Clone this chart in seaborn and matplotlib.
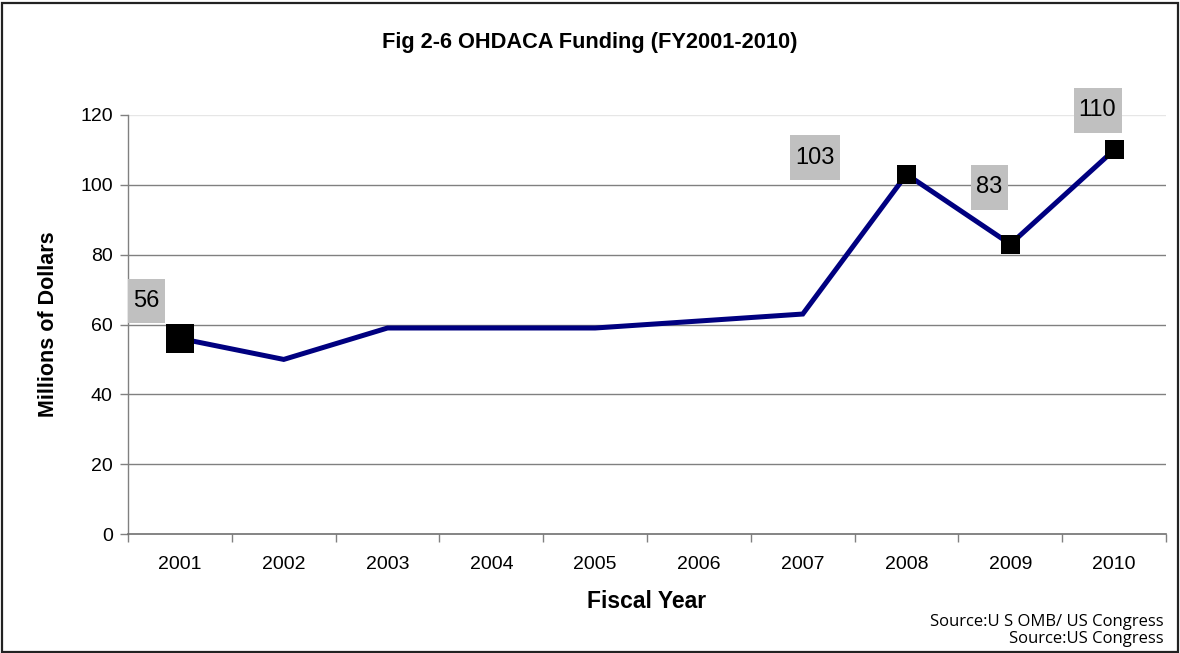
import matplotlib
matplotlib.use("Agg")
import matplotlib.pyplot as plt
import seaborn as sns
import numpy as np
import pandas as pd
from matplotlib.patches import Rectangle
from matplotlib.path import Path

# OHDACA funding by fiscal year (millions of dollars)
years = ["2001", "2002", "2003", "2004", "2005", "2006", "2007", "2008", "2009", "2010"]
funding = [56, 50, 59, 59, 59, 61, 63, 103, 83, 110]

# Years that carry a marker and a value label
marked_years = ["2001", "2008", "2009", "2010"]
marked_values = [56, 103, 83, 110]

sns.set_theme(style="white")
plt.rcParams["font.family"] = ["Liberation Sans", "DejaVu Sans"]
plt.rcParams.update({"text.color": "black", "axes.labelcolor": "black",
                     "xtick.color": "black", "ytick.color": "black"})

df = pd.DataFrame({"pos": np.arange(len(years)), "year": years, "funding": funding})
mk = df[df["year"].isin(marked_years)].copy()
mk["funding"] = marked_values

fig = plt.figure(figsize=(11.8, 6.53), dpi=100)
ax = fig.add_axes([0.1085, 0.1822, 0.8797, 0.6417])

sns.lineplot(data=df, x="pos", y="funding", ax=ax, color="#000080",
             linewidth=3.6, solid_joinstyle="miter", zorder=3)

sizes = [420 if y == "2001" else 190 for y in mk["year"]]
sns.scatterplot(data=mk, x="pos", y="funding", ax=ax, marker="s", s=sizes,
                color="black", edgecolor="black", linewidth=0, zorder=4, legend=False)


def label_box(x0, y0, width, height, mutation_size):
    # rectangle padded a little on the sides and more above/below
    px, py = 0.22 * mutation_size, 0.48 * mutation_size
    x1, y1 = x0 - px, y0 - py
    x2, y2 = x0 + width + px, y0 + height + py
    return Path([(x1, y1), (x2, y1), (x2, y2), (x1, y2), (x1, y1)],
                [Path.MOVETO, Path.LINETO, Path.LINETO, Path.LINETO, Path.CLOSEPOLY])


# value labels in grey boxes
offsets = {"2001": (-24, 27), "2008": (-66, 12), "2009": (-15, 41), "2010": (-12, 28.5)}
for _, row in mk.iterrows():
    ax.annotate(f"{int(row['funding'])}", xy=(row["pos"], row["funding"]),
                xytext=offsets[row["year"]], textcoords="offset points",
                ha="center", va="center", fontsize=17, color="black",
                bbox=dict(boxstyle=label_box, facecolor="#C0C0C0",
                          edgecolor="none"), zorder=5)

ax.set_xlim(-0.5, len(years) - 0.5)
ax.set_ylim(0, 120)
ax.set_yticks(range(0, 121, 20))
ax.set_xticks(np.arange(len(years)))
ax.set_xticklabels(years)
ax.set_xticks(np.arange(len(years) + 1) - 0.5, minor=True)

for v in range(20, 101, 20):
    ax.axhline(v, color="#808080", linewidth=1.0, zorder=1)
ax.axhline(120, color="#e6e6e6", linewidth=1.0, zorder=1)

for s in ["top", "right"]:
    ax.spines[s].set_visible(False)
ax.spines["left"].set_color("#808080")
ax.spines["bottom"].set_color("#707070")
ax.spines["left"].set_linewidth(1.0)
ax.spines["bottom"].set_linewidth(1.2)

ax.tick_params(axis="y", which="major", left=True, length=6, width=1,
               color="#808080", labelsize=14, pad=5)
ax.tick_params(axis="x", which="major", bottom=False, labelsize=14, pad=10)
ax.tick_params(axis="x", which="minor", bottom=True, length=6, width=1, color="#808080")

ax.set_xlabel("Fiscal Year", fontsize=16.5, fontweight="bold", labelpad=12)
ax.set_ylabel("Millions of Dollars", fontsize=15.5, fontweight="bold", labelpad=15)

fig.text(0.5, 0.935, "Fig 2-6 OHDACA Funding (FY2001-2010)", ha="center", va="center",
         fontsize=15.7, fontweight="bold")
fig.text(0.986, 0.048, "Source:U S OMB/ US Congress", ha="right", va="center",
         fontsize=12, family=["Open Sans", "DejaVu Sans"])
fig.text(0.986, 0.021, "Source:US Congress", ha="right", va="center",
         fontsize=12, family=["Open Sans", "DejaVu Sans"])

fig.patches.append(Rectangle((0.002, 0.002), 0.996, 0.994, transform=fig.transFigure,
                             fill=False, edgecolor="#222222", linewidth=1.6))

fig.savefig("out.png", dpi=100)
